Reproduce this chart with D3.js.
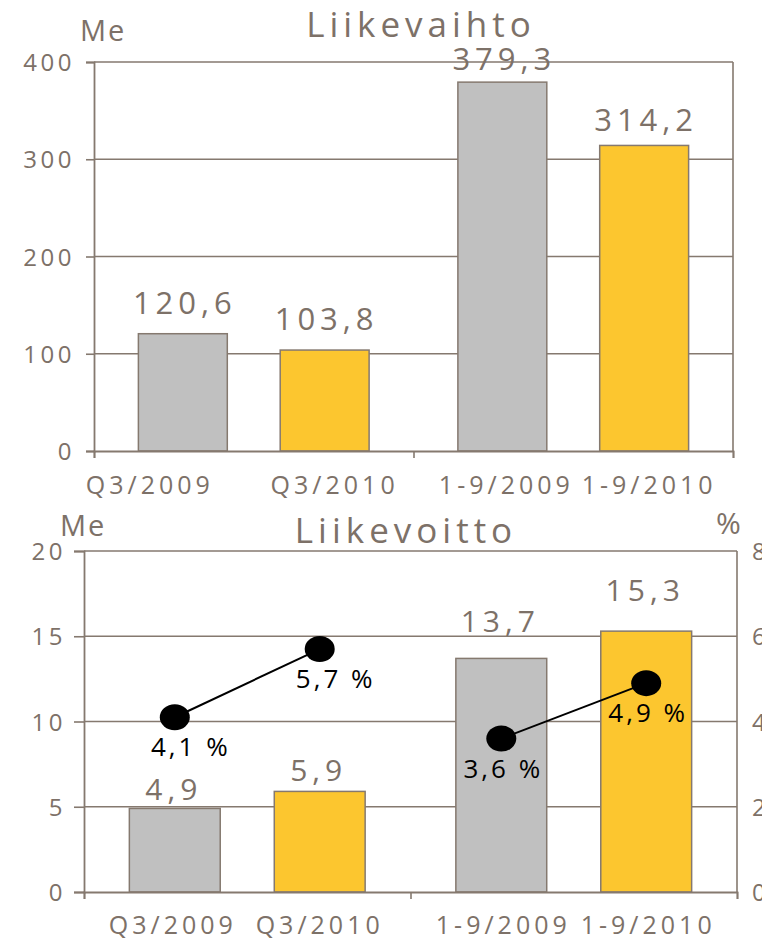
<!DOCTYPE html>
<html>
<head>
<meta charset="utf-8">
<script src="https://cdn.jsdelivr.net/npm/d3@7"></script>
<style>
  html, body { margin: 0; padding: 0; background: #ffffff; }
  svg { display: block; }
  text { font-family: "Open Sans", "DejaVu Sans", sans-serif; }
</style>
</head>
<body>
<svg id="chart" width="762" height="942"></svg>
<script>
// ---- data ----
const groups = ["Q3", "1-9"];
const categories = ["Q3/2009", "Q3/2010", "1-9/2009", "1-9/2010"];
const seriesNames = ["2009", "2010"];
const revenue = [120.6, 103.8, 379.3, 314.2];
const operatingProfit = [4.9, 5.9, 13.7, 15.3];
const marginPct = [4.1, 5.7, 3.6, 4.9];
const revenueTicks = [0, 100, 200, 300, 400];
const profitTicks = [0, 5, 10, 15, 20];
const pctTicks = [0, 2, 4, 6, 8];
const titles = ["Liikevaihto", "Liikevoitto"];
const unitLabel = "Me";
const pctUnitLabel = "%";

// ---- styles ----
const TEXT = "#7d7168";
const LINE = "#85796f";
const COLORS = ["#c0c0c0", "#fcc62f"];
const fi = d3.formatLocale({ decimal: ",", thousands: " ", grouping: [3], currency: ["", ""] });
const f1 = fi.format(".1f");

const svg = d3.select("#chart");

function drawChart(cfg) {
  const g = svg.append("g");
  const { left, right, top, bottom } = cfg;
  const x0 = d3.scaleBand().domain(d3.range(groups.length)).range([left, right]).padding(0);
  const x1 = d3.scaleBand().domain(d3.range(seriesNames.length)).range([0, x0.bandwidth()])
    .paddingInner(0.373).paddingOuter(0.313);
  const y = d3.scaleLinear().domain([0, cfg.max]).range([bottom, top]);
  // value-label placement scale (labels sit a little higher on taller bars)
  const yLab = d3.scaleLinear().domain([0, cfg.max]).range(cfg.labRange);
  const cx = i => x0(Math.floor(i / 2)) + x1(i % 2) + x1.bandwidth() / 2;
  const bx = i => x0(Math.floor(i / 2)) + x1(i % 2);

  // grid
  g.append("g").selectAll("line").data(cfg.ticks.filter(t => t > 0)).join("line")
    .attr("x1", left).attr("x2", right)
    .attr("y1", d => y(d)).attr("y2", d => y(d))
    .attr("stroke", LINE).attr("stroke-width", 1.6);
  // right border
  g.append("line").attr("x1", right).attr("x2", right).attr("y1", top).attr("y2", bottom)
    .attr("stroke", LINE).attr("stroke-width", 1.6);

  // bars
  g.append("g").selectAll("rect").data(cfg.values).join("rect")
    .attr("x", (d, i) => bx(i))
    .attr("width", x1.bandwidth())
    .attr("y", d => y(d))
    .attr("height", d => y(0) - y(d))
    .attr("fill", (d, i) => COLORS[i % 2])
    .attr("stroke", LINE).attr("stroke-width", 1.5);

  // y axis
  const ya = g.append("g").attr("transform", `translate(${left},0)`)
    .call(d3.axisLeft(y).tickValues(cfg.ticks).tickSize(cfg.tickLen).tickPadding(cfg.tickPad).tickFormat(d3.format("d")));
  ya.selectAll("path.domain").attr("stroke", LINE).attr("stroke-width", 1.8);
  ya.selectAll(".tick line").attr("stroke", LINE).attr("stroke-width", 1.6);
  ya.selectAll(".tick text").attr("fill", TEXT).style("font-size", "24px")
    .style("letter-spacing", "3.5px").attr("dy", "0.36em");

  // x axis
  const xb = d3.scaleLinear().domain([0, groups.length]).range([left, right]);
  const xa = g.append("g").attr("transform", `translate(0,${bottom})`)
    .call(d3.axisBottom(xb).tickValues(d3.range(groups.length + 1)).tickSize(7).tickFormat(""));
  xa.selectAll("path.domain").attr("stroke", LINE).attr("stroke-width", 1.8);
  xa.selectAll(".tick line").attr("stroke", LINE).attr("stroke-width", 1.6);

  // category labels
  g.append("g").selectAll("text").data(categories).join("text")
    .attr("x", (d, i) => cx(i) + cfg.catDx[i])
    .attr("y", bottom + cfg.catDy)
    .attr("text-anchor", "middle").attr("fill", TEXT)
    .style("font-size", "25px").style("letter-spacing", "4px")
    .text(d => d);

  // value labels
  g.append("g").selectAll("text").data(cfg.values).join("text")
    .attr("x", (d, i) => cx(i) + cfg.valDx)
    .attr("y", d => yLab(d))
    .attr("text-anchor", "middle").attr("fill", TEXT)
    .style("font-size", cfg.valSize + "px").style("letter-spacing", "5px")
    .text(d => f1(d));

  // title & unit
  g.append("text").attr("x", cfg.titleX).attr("y", cfg.titleY).attr("text-anchor", "middle")
    .attr("fill", TEXT).style("font-size", "35px").style("letter-spacing", "5px").text(cfg.title);
  g.append("text").attr("x", cfg.unitX).attr("y", cfg.unitY)
    .attr("fill", TEXT).style("font-size", "29px").style("letter-spacing", "2px").text(unitLabel);

  return { g, x0, x1, y, cx };
}

// top chart
drawChart({
  left: 94, right: 733, top: 62, bottom: 451, max: 400,
  values: revenue, ticks: revenueTicks, tickLen: 8, tickPad: 11,
  catDx: [-33, 10, 4, 5], catDy: 43, valDx: 2, valSize: 31, labRange: [428, 50],
  title: titles[0], titleX: 421, titleY: 37, unitX: 80, unitY: 41
});

// bottom chart
const bot = drawChart({
  left: 84, right: 737, top: 551, bottom: 892, max: 20,
  values: operatingProfit, ticks: profitTicks, tickLen: 10, tickPad: 8,
  catDx: [-2, 0, 2, 2], catDy: 42, valDx: -1, valSize: 30, labRange: [894, 511],
  title: titles[1], titleX: 406, titleY: 543, unitX: 60, unitY: 536
});

// right percent axis
const yPct = d3.scaleLinear().domain([0, 8]).range([892, 551]);
const ra = svg.append("g").attr("transform", "translate(737,0)")
  .call(d3.axisRight(yPct).tickValues(pctTicks).tickSize(0).tickPadding(15).tickFormat(d3.format("d")));
ra.select("path.domain").remove();
ra.selectAll(".tick text").attr("fill", TEXT).style("font-size", "24px").attr("dy", "0.36em");
svg.append("text").attr("x", 716).attr("y", 534).attr("fill", TEXT)
  .style("font-size", "30px").text(pctUnitLabel);

// margin lines (one segment per group)
const pts = marginPct.map((v, i) => ({ x: bot.cx(i), y: yPct(v), v, grp: Math.floor(i / 2) }));
const lineGen = d3.line().x(d => d.x).y(d => d.y);
svg.append("g").selectAll("path").data(d3.range(groups.length).map(k => pts.filter(p => p.grp === k))).join("path")
  .attr("d", lineGen).attr("fill", "none").attr("stroke", "#000").attr("stroke-width", 2);
svg.append("g").selectAll("ellipse").data(pts).join("ellipse")
  .attr("cx", d => d.x).attr("cy", d => d.y).attr("rx", 15).attr("ry", 13).attr("fill", "#000");
svg.append("g").selectAll("text").data(pts).join("text")
  .attr("x", d => d.x + (d.grp === 0 ? 16 : 2))
  .attr("y", d => d.y + 39)
  .attr("text-anchor", "middle").attr("fill", "#000")
  .style("font-size", "26px").style("letter-spacing", "3px")
  .text(d => f1(d.v) + " %");
</script>
</body>
</html>
